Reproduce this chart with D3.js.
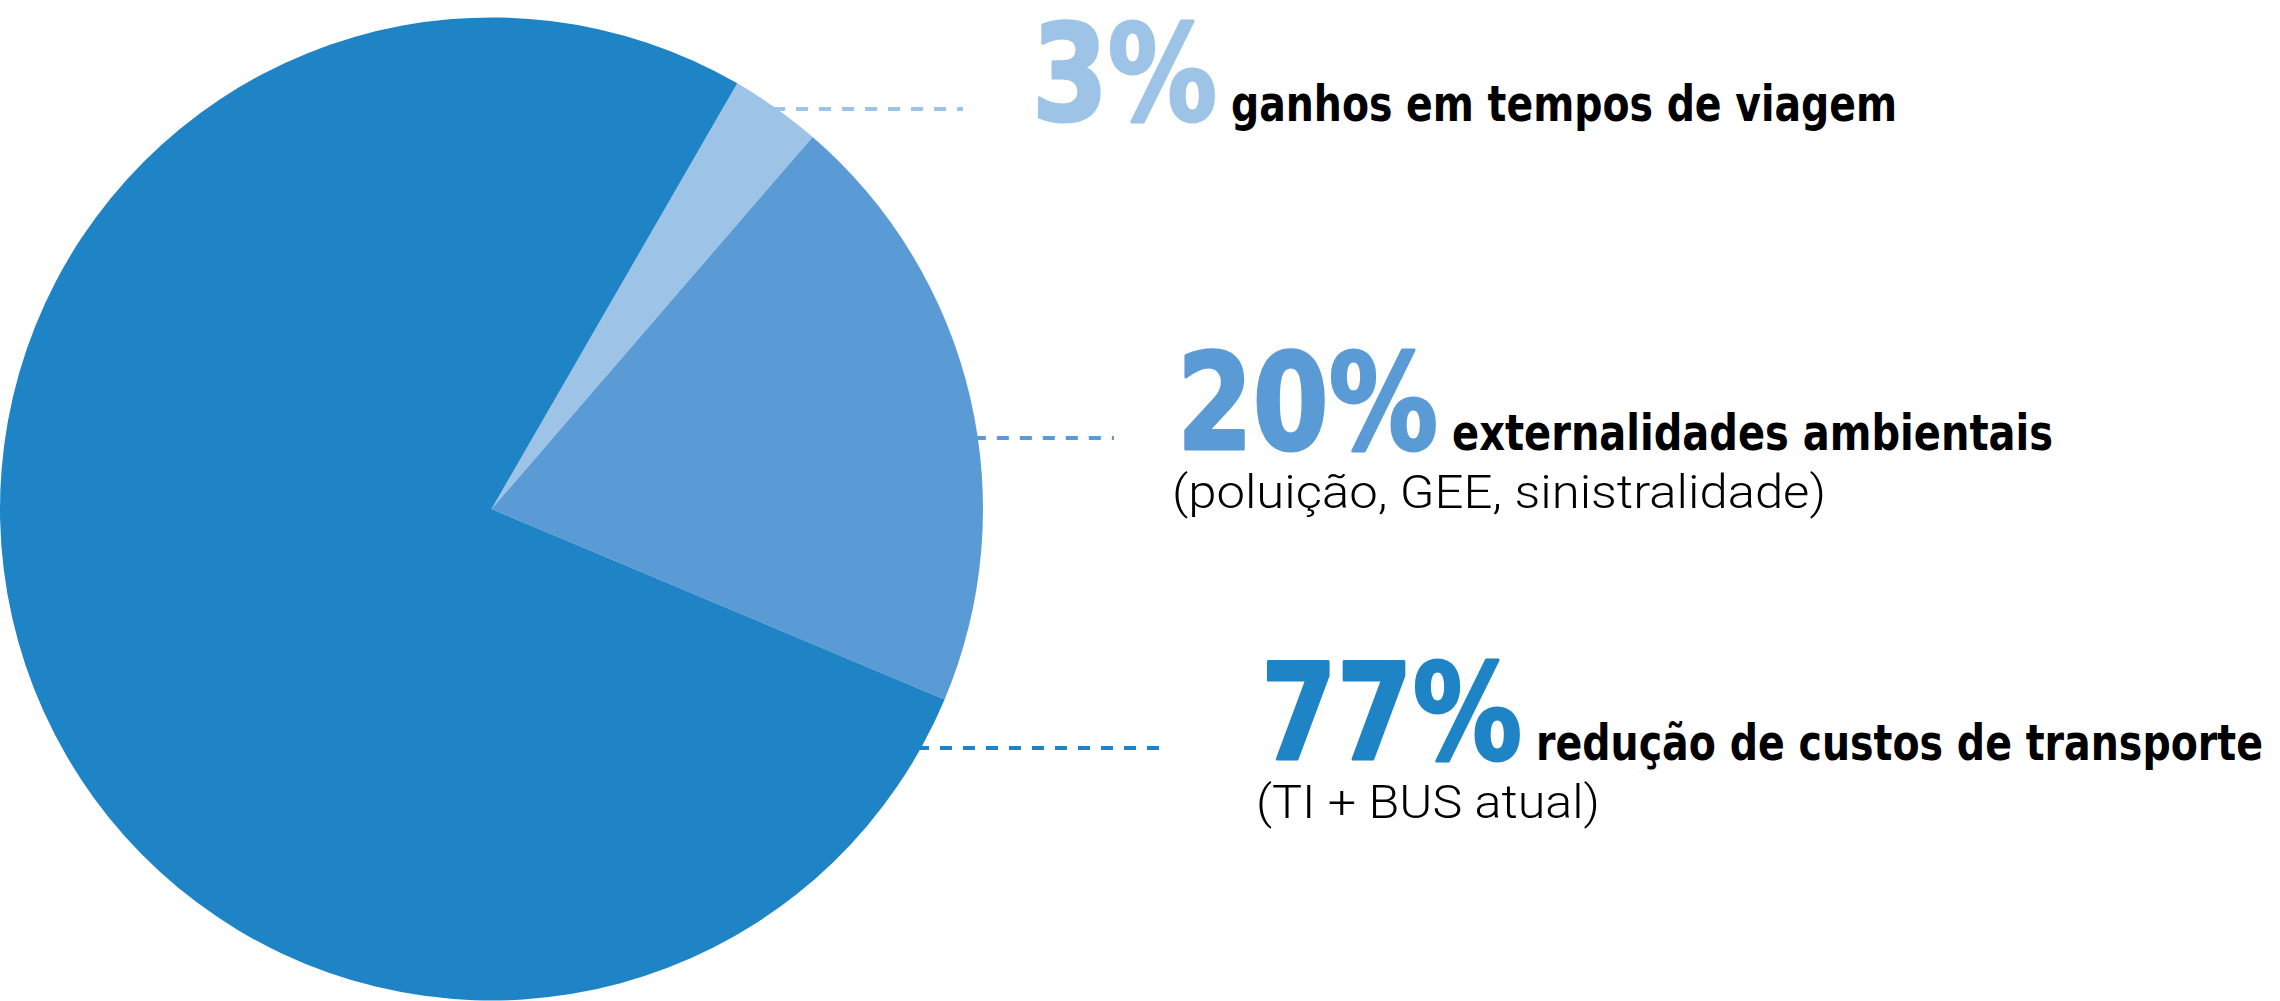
<!DOCTYPE html>
<html>
<head>
<meta charset="utf-8">
<script src="https://cdn.jsdelivr.net/npm/d3@7"></script>
<style>
  html, body { margin: 0; padding: 0; background: #fff; }
  svg { display: block; }
</style>
</head>
<body>
<div id="chart"></div>
<script>
const categories = ["ganhos em tempos de viagem", "externalidades ambientais", "redução de custos de transporte"];
const values = [3, 20, 77];
const notes = ["", "(poluição, GEE, sinistralidade)", "(TI + BUS atual)"];
const colors = ["#9dc3e6", "#5b9bd5", "#1e84c6"];

function draw() {
  const dimensions = { width: 2280, height: 1001 };
  dimensions.radius = 491.5;
  dimensions.cx = 491.5;
  dimensions.cy = 509;

  // where each label block sits (number start, baseline, fitted widths)
  const layout = [
    { x: 1032, y: 121, numW: 185, labW: 666, noteW: 0,   lineEnd: 963 },
    { x: 1177, y: 450, numW: 261, labW: 601, noteW: 654, lineEnd: 1114 },
    { x: 1261, y: 760, numW: 261, labW: 727, noteW: 344, lineEnd: 1166 }
  ];

  const data = values.map((v, i) => ({ value: v, label: categories[i], note: notes[i], color: colors[i], pos: layout[i] }));

  const pie = d3.pie()
    .sort(null)
    .value(d => d.value)
    .startAngle(30 * Math.PI / 180)
    .endAngle(30 * Math.PI / 180 + 2 * Math.PI);

  const arc = d3.arc()
    .innerRadius(0)
    .outerRadius(dimensions.radius);

  const wrapper = d3.select("#chart")
    .append("svg")
    .attr("width", dimensions.width)
    .attr("height", dimensions.height);

  // leader lines first, pie drawn on top
  const lines = wrapper.append("g");
  lines.selectAll("line")
    .data(data)
    .join("line")
    .attr("x1", d => {
      const dy = d.pos.y - 12 - dimensions.cy;
      return dimensions.cx + Math.sqrt(dimensions.radius * dimensions.radius - dy * dy) - 4;
    })
    .attr("x2", d => d.pos.lineEnd)
    .attr("y1", d => d.pos.y - 12)
    .attr("y2", d => d.pos.y - 12)
    .attr("stroke", d => d.color)
    .attr("stroke-width", 4)
    .attr("stroke-dasharray", "12 11");

  const bounds = wrapper.append("g")
    .attr("transform", `translate(${dimensions.cx}, ${dimensions.cy})`);

  bounds.selectAll("path")
    .data(pie(data))
    .join("path")
    .attr("fill", d => d.data.color)
    .attr("d", arc);

  const labels = wrapper.append("g");

  // big percentages, thickened with a stroke of the same colour
  labels.selectAll("text.num")
    .data(data)
    .join("text")
    .attr("class", "num")
    .attr("x", d => d.pos.x)
    .attr("y", d => d.pos.y - 1)
    .attr("fill", d => d.color)
    .attr("stroke", d => d.color)
    .attr("stroke-width", 3)
    .attr("stroke-linejoin", "round")
    .style("font-family", "'DejaVu Sans Condensed', 'DejaVu Sans', sans-serif")
    .style("font-weight", "bold")
    .style("font-size", "134px")
    .attr("textLength", d => d.pos.numW)
    .attr("lengthAdjust", "spacingAndGlyphs")
    .text(d => d.value + "%");

  labels.selectAll("text.lab")
    .data(data)
    .join("text")
    .attr("class", "lab")
    .attr("x", d => d.pos.x + d.pos.numW + 14)
    .attr("y", d => d.pos.y)
    .attr("fill", "#000")
    .style("font-family", "'DejaVu Sans Condensed', 'DejaVu Sans', sans-serif")
    .style("font-weight", "bold")
    .style("font-size", "50px")
    .attr("textLength", d => d.pos.labW)
    .attr("lengthAdjust", "spacingAndGlyphs")
    .text(d => d.label);

  labels.selectAll("text.note")
    .data(data.filter(d => d.note))
    .join("text")
    .attr("class", "note")
    .attr("x", d => d.pos.x - 5)
    .attr("y", d => d.pos.y + 58)
    .attr("fill", "#000")
    .style("font-family", "Roboto, 'DejaVu Sans Condensed', sans-serif")
    .style("font-weight", "300")
    .style("font-size", "46px")
    .attr("textLength", d => d.pos.noteW)
    .attr("lengthAdjust", "spacingAndGlyphs")
    .text(d => d.note);
}
draw();
</script>
</body>
</html>
